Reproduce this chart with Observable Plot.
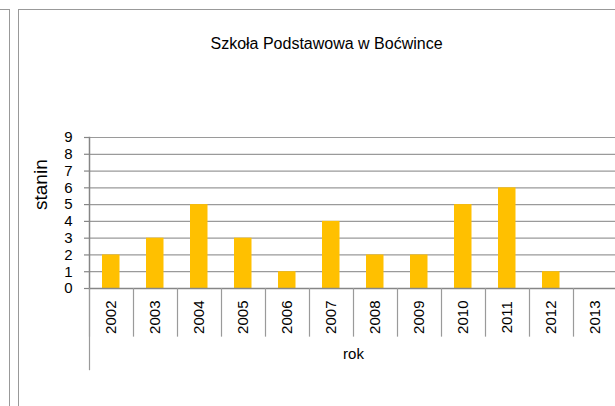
<!DOCTYPE html>
<html><head><meta charset="utf-8">
<script src="https://cdn.jsdelivr.net/npm/d3@7"></script>
<script src="https://cdn.jsdelivr.net/npm/@observablehq/plot@0.6"></script>
<style>
body{margin:0;background:#fff;}
#wrap{position:relative;width:615px;height:406px;overflow:hidden;font-family:"Liberation Sans",Arial,sans-serif;background:#fff;}
.frame{position:absolute;border:1.5px solid #999;box-sizing:border-box;}
#chart{position:absolute;left:0;top:0;}
</style></head><body>
<div id="wrap">
<div class="frame" style="left:-30px;top:9px;width:40px;height:430px"></div>
<div class="frame" style="left:18px;top:9px;width:640px;height:430px"></div>
<div id="chart"></div>
</div>
<script>
const title = "Szkoła Podstawowa w Boćwince";
const years = ["2002","2003","2004","2005","2006","2007","2008","2009","2010","2011","2012","2013"];
const stanin = [2,3,5,3,1,4,2,2,5,6,1,null];
const yTicks = [0,1,2,3,4,5,6,7,8,9];
const xLabel = "rok";
const yLabel = "stanin";

const data = years.map((y,i)=>({year:y, value:stanin[i]})).filter(d=>d.value!=null);
const xRange = [89,617];
const bw = (xRange[1]-xRange[0])/years.length;

const chart = Plot.plot({
  width:615, height:406,
  marginLeft:89, marginRight:0, marginTop:137, marginBottom:118,
  style:{fontFamily:'"Liberation Sans",Arial,sans-serif', fontSize:"15px", background:"transparent", color:"#000"},
  x:{type:"band", domain:years, range:xRange, padding:0, axis:null},
  y:{domain:[0,9], range:[288,137], axis:null},
  marks:[
    Plot.ruleY(yTicks, {y:d=>d, stroke:"#9a9a9a", strokeWidth:1.2, strokeOpacity:1}),
    Plot.barY(data, {x:"year", y:"value", fill:"#FFC000", insetLeft:13, insetRight:13.5}),
    Plot.ruleY([0], {stroke:"#868686", strokeWidth:1.5}),
    Plot.frame({anchor:"left", stroke:"#868686", strokeWidth:1.5}),
    Plot.axisY({ticks:yTicks, tickSize:5, text:null, label:null, stroke:"#868686", strokeWidth:1.2}),
    Plot.axisY({ticks:yTicks, tickSize:0, tickPadding:17, label:null, fill:"#000", fontSize:15, tickFormat:d=>String(d)}),
    Plot.ruleX(years, {x:d=>d, y1:()=>0, y2:()=>-2.9, dx:-bw/2, stroke:"#9a9a9a", strokeWidth:1.2}),
    Plot.ruleX([years[0]], {x:d=>d, y1:()=>0, y2:()=>-4.9, dx:-bw/2, stroke:"#9a9a9a", strokeWidth:1.2}),
    Plot.text(years, {x:d=>d, y:()=>-1.71, text:d=>d, rotate:-90, fontSize:15, fill:"#000"}),
    Plot.text([xLabel], {frameAnchor:"bottom", dy:70, dx:1, text:d=>d, fontSize:15, fill:"#000"}),
    Plot.text([yLabel], {frameAnchor:"left", dx:-49, dy:-3, rotate:-90, text:d=>d, fontSize:19, fill:"#000"}),
    Plot.text([title], {frameAnchor:"top", dy:-100, dx:-26, text:d=>d, fontSize:16, fill:"#000"})
  ]
});
document.getElementById("chart").appendChild(chart);
</script>
</body></html>
